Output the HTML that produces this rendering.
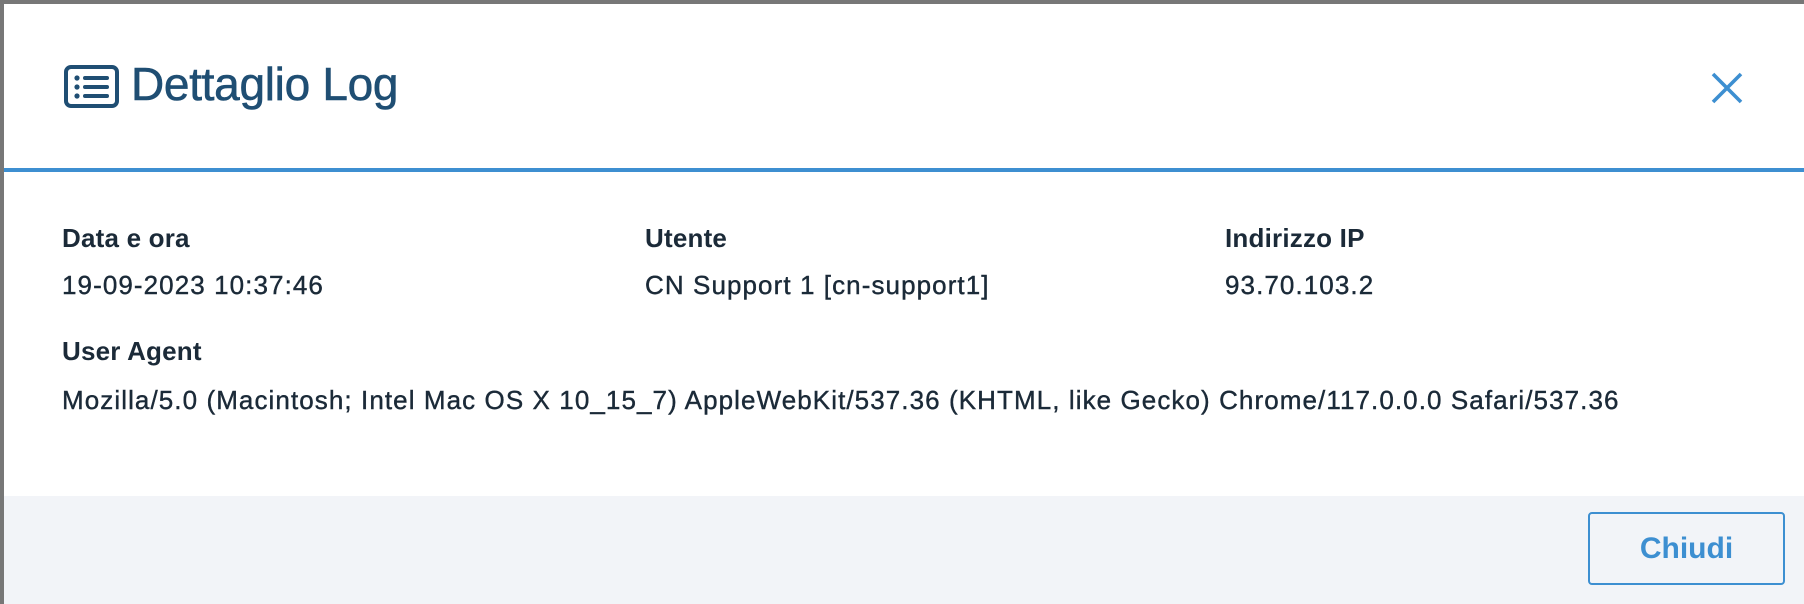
<!DOCTYPE html>
<html><head><meta charset="utf-8"><style>
body{margin:0;width:1804px;height:604px;background:#777;position:relative;overflow:hidden;font-family:"Liberation Sans",sans-serif;}
.modal{position:absolute;left:4px;top:4px;right:0;bottom:0;background:#fff;}
.hdr{position:absolute;left:0;top:0;right:0;height:164px;border-bottom:4px solid #3d8fd1;}
.title{position:absolute;left:127px;top:53px;font-size:46px;color:#1f4e73;letter-spacing:-0.3px;-webkit-text-stroke:0.6px #1f4e73;}
.foot{position:absolute;left:0;right:0;top:492px;bottom:0;background:#f2f4f8;}
.btn{position:absolute;left:1584px;top:508px;width:197px;height:73px;border:2px solid #3d8fd1;border-radius:4px;box-sizing:border-box;color:#3d8fd1;font-weight:bold;font-size:30px;text-align:center;line-height:69px;}
.t{position:absolute;font-size:26px;line-height:30px;color:#1b2a38;white-space:nowrap;letter-spacing:1.08px;-webkit-text-stroke:0.4px #1b2a38;}
.b{font-weight:bold;letter-spacing:0.2px;-webkit-text-stroke:0;}
</style></head><body>
<div class="modal">
<div class="hdr">
<svg style="position:absolute;left:60px;top:61px" width="56" height="44" viewBox="0 0 56 44">
<rect x="2" y="2" width="51" height="39" rx="5" fill="none" stroke="#1f4e73" stroke-width="4"/>
<circle cx="13" cy="13" r="2.6" fill="#1f4e73"/><circle cx="13" cy="22" r="2.6" fill="#1f4e73"/><circle cx="13" cy="31" r="2.6" fill="#1f4e73"/>
<rect x="19" y="11" width="26" height="4" rx="2" fill="#1f4e73"/><rect x="19" y="20" width="26" height="4" rx="2" fill="#1f4e73"/><rect x="19" y="29" width="26" height="4" rx="2" fill="#1f4e73"/>
</svg>
<div class="title">Dettaglio Log</div>
<svg style="position:absolute;left:1706px;top:67px" width="34" height="34" viewBox="0 0 34 34"><path d="M3 3L31 31M31 3L3 31" stroke="#3d8fd1" stroke-width="3.6"/></svg>
</div>
<div class="t b" style="left:58px;top:219px">Data e ora</div>
<div class="t" style="left:58px;top:266px">19-09-2023 10:37:46</div>
<div class="t b" style="left:641px;top:219px">Utente</div>
<div class="t" style="left:641px;top:266px">CN Support 1 [cn-support1]</div>
<div class="t b" style="left:1221px;top:219px">Indirizzo IP</div>
<div class="t" style="left:1221px;top:266px">93.70.103.2</div>
<div class="t b" style="left:58px;top:332px">User Agent</div>
<div class="t" style="left:58px;top:381px">Mozilla/5.0 (Macintosh; Intel Mac OS X 10_15_7) AppleWebKit/537.36 (KHTML, like Gecko) Chrome/117.0.0.0 Safari/537.36</div>
<div class="foot"></div>
<div class="btn">Chiudi</div>
</div>
</body></html>
